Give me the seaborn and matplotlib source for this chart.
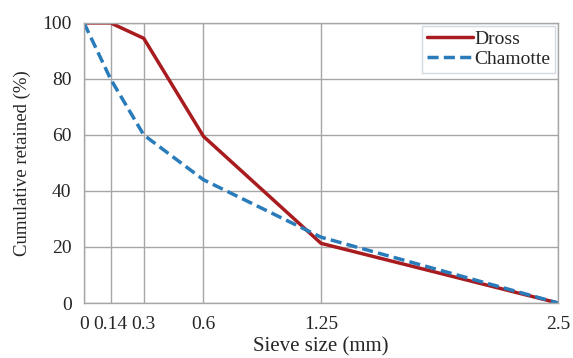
import matplotlib
matplotlib.use("Agg")
import matplotlib.pyplot as plt
import seaborn as sns
import pandas as pd

sieve_size = [0, 0.14, 0.315, 0.63, 1.25, 2.5]
tick_labels = ["0", "0.14", "0.3", "0.6", "1.25", "2.5"]
dross = [100, 100, 94.5, 59.5, 21.3, 0]
chamotte = [100, 80, 60, 44, 23.5, 0]

df = pd.DataFrame({
    "x": sieve_size * 2,
    "y": dross + chamotte,
    "series": ["Dross"] * len(sieve_size) + ["Chamotte"] * len(sieve_size),
})

sns.set_style("white")
plt.rcParams['font.family'] = ['Liberation Serif', 'DejaVu Serif']

fig = plt.figure(figsize=(5.73, 3.58), dpi=100)
ax = fig.add_axes([0.1466, 0.1536, 0.8274, 0.7824])

palette = {"Dross": "#A81C20", "Chamotte": "#2A7BBA"}
sns.lineplot(data=df, x="x", y="y", hue="series", style="series",
             dashes={"Dross": "", "Chamotte": (3.2, 1.5)}, palette=palette,
             linewidth=2.5, ax=ax, legend=True)

ax.set_xlim(0, 2.5)
ax.set_ylim(0, 100)
ax.set_xticks(sieve_size)
ax.set_xticklabels(tick_labels)
ax.set_yticks([0, 20, 40, 60, 80, 100])
ax.grid(True, color="#a6a6a6", linewidth=1.0)
ax.set_axisbelow(True)
for s in ax.spines.values():
    s.set_color("#a6a6a6")
    s.set_linewidth(1.0)
ax.tick_params(axis="both", length=0, labelsize=14)
ax.tick_params(axis="x", pad=9)
ax.tick_params(axis="y", pad=9)
ax.set_xlabel("Sieve size (mm)", fontsize=15, labelpad=3.5)
ax.set_ylabel("Cumulative retained (%)", fontsize=13.5, labelpad=8)

leg = ax.legend(loc="upper right", fontsize=14, frameon=True, fancybox=False,
                handlelength=2.4, handletextpad=0.05, borderpad=0.25,
                labelspacing=0.1, borderaxespad=0.15)
leg.get_frame().set_edgecolor("#c8d0dc")
leg.get_frame().set_linewidth(1.0)

fig.savefig("out.png", dpi=100)
